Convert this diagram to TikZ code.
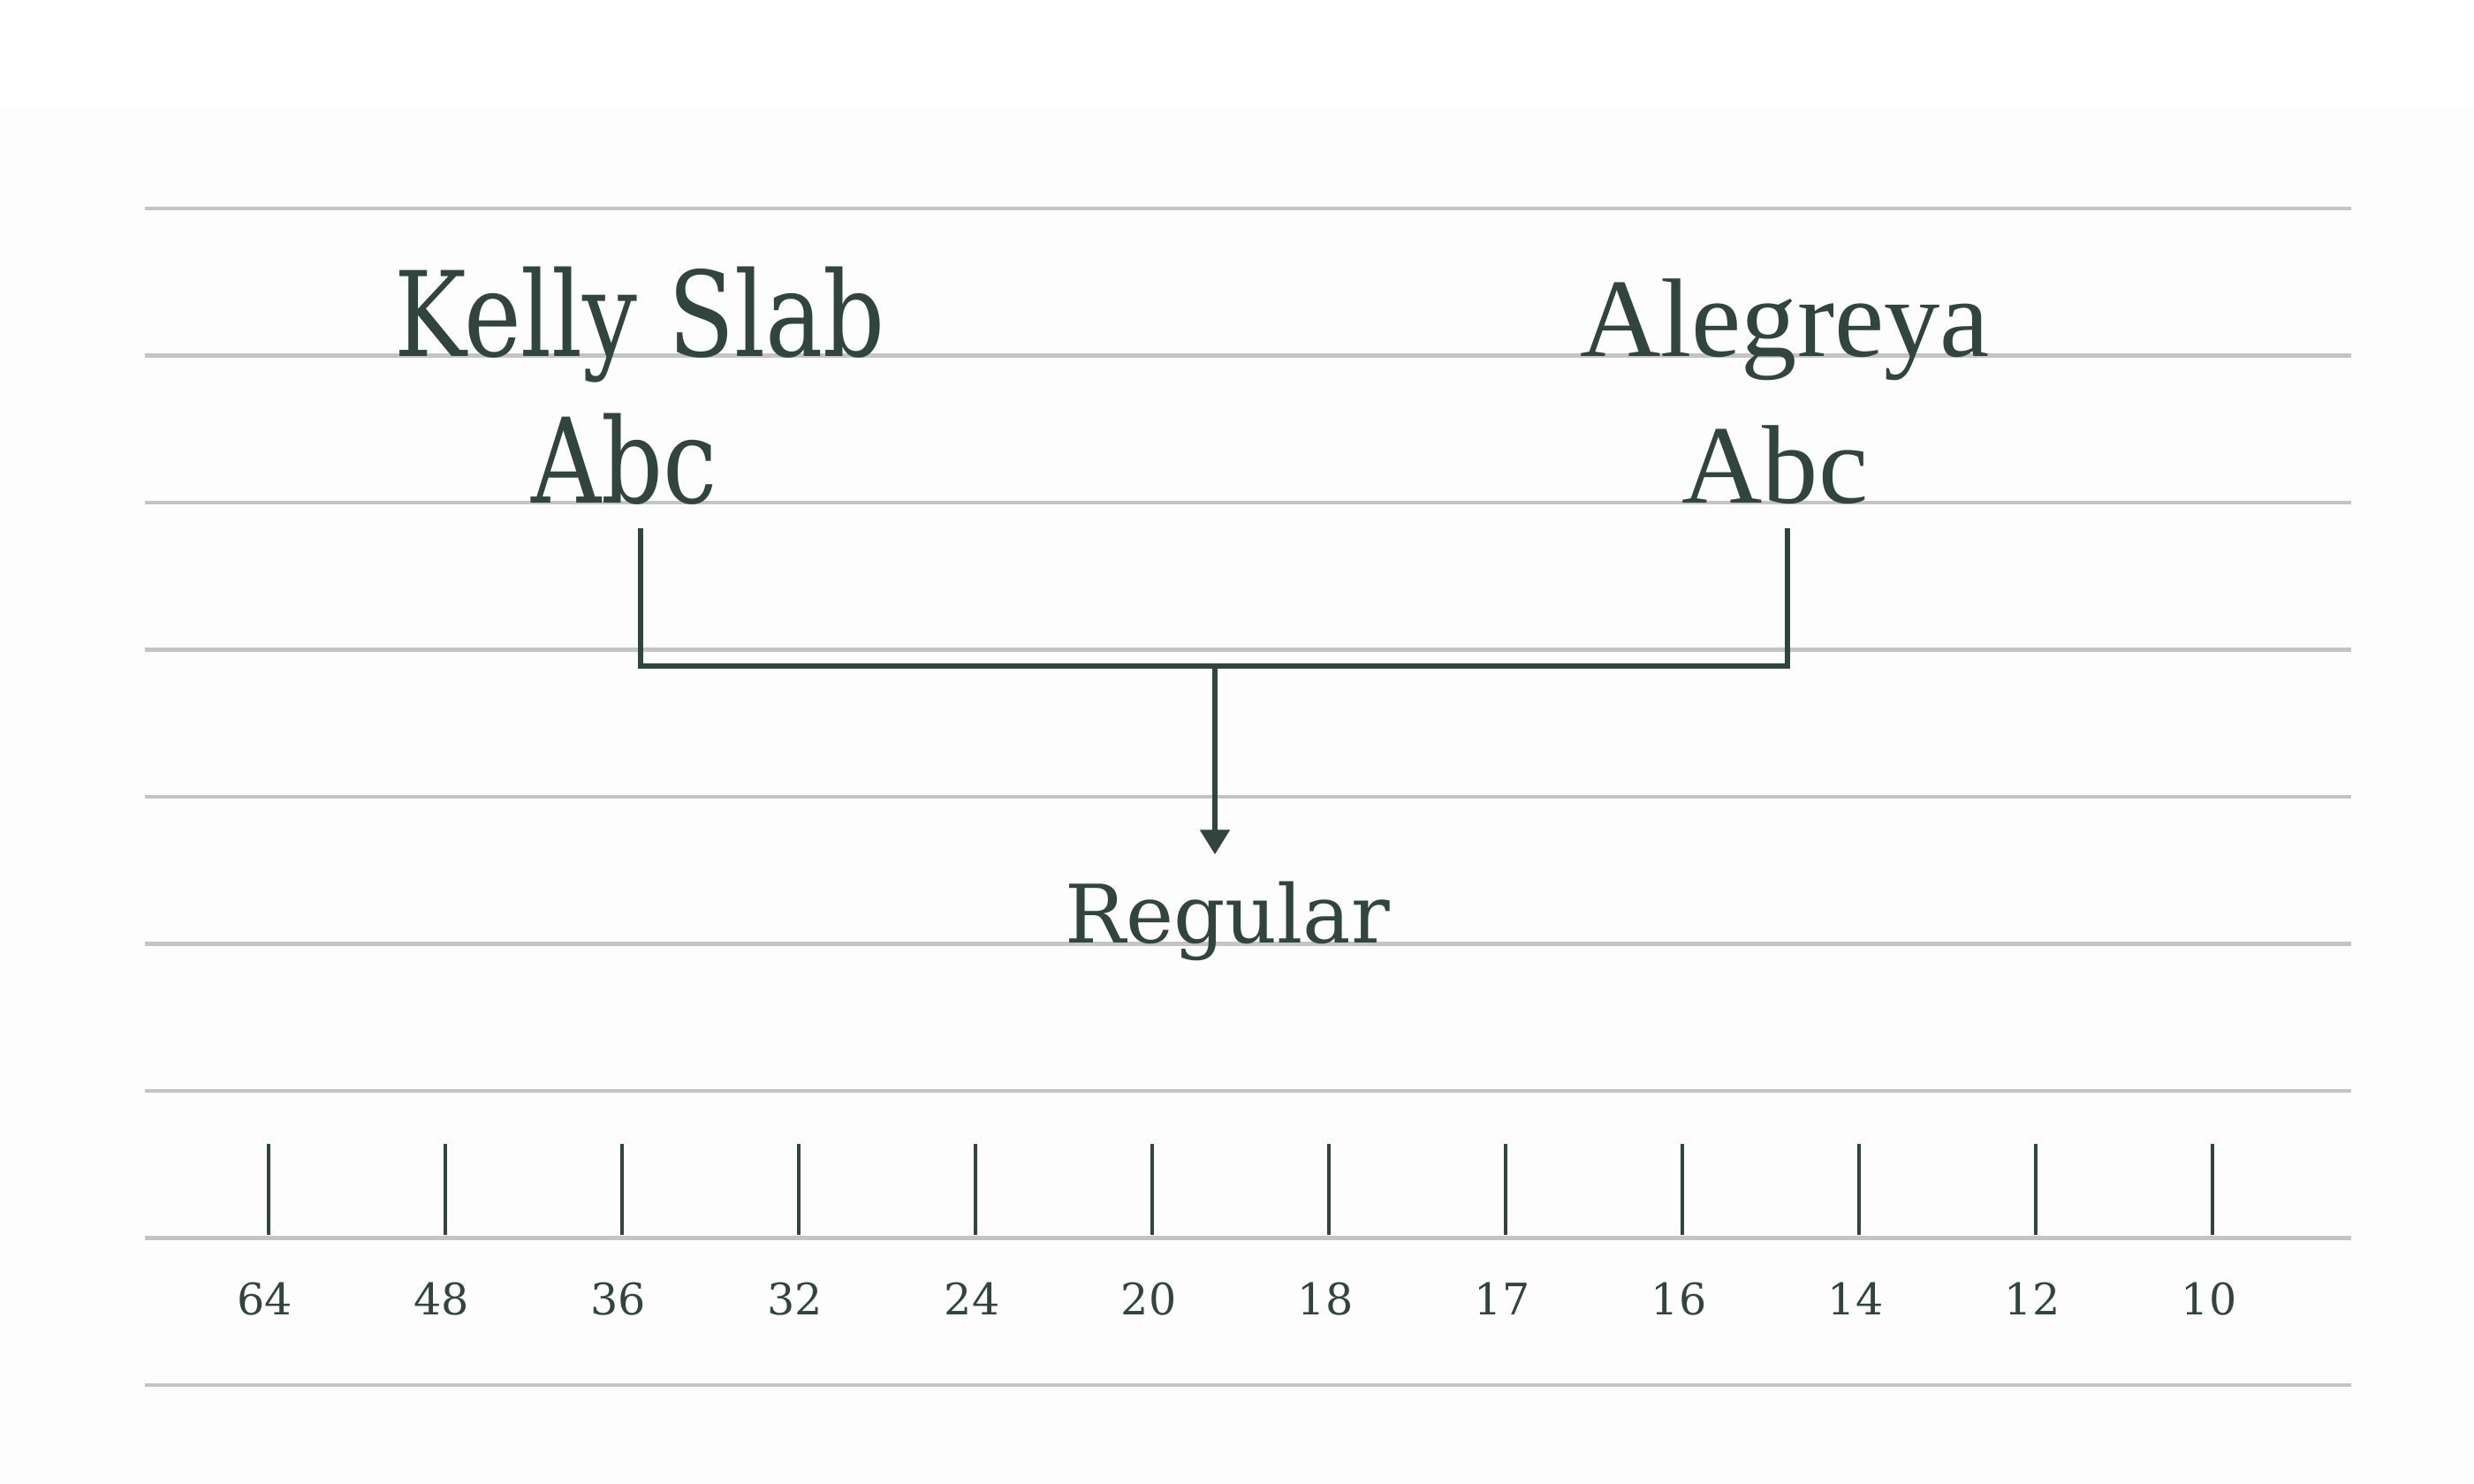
\documentclass[tikz,border=0pt]{standalone}
\usepackage{fontspec}
\usepackage{tikz}
\usetikzlibrary{arrows.meta}
\usetikzlibrary{calc}

\newfontfamily\slabfont[FakeStretch=0.82]{DejaVu Serif}
\newfontfamily\bookfont{Liberation Serif}
\newfontfamily\plainfont{DejaVu Serif}
\definecolor{ink}{HTML}{2F453E}
\definecolor{rule}{HTML}{C4C4C4}
\definecolor{paper}{HTML}{FDFDFD}

\begin{document}
\begin{tikzpicture}[>/.tip={Triangle[width=0.33cm,length=0.28cm]},
	guide/.style={rule,line width=0.045cm},
	bracket/.style={ink,line width=0.055cm},
	tickmark/.style={ink,line width=0.045cm},
	sizelabel/.style={ink,anchor=base,inner sep=0pt,font=\plainfont\fontsize{14}{14}\selectfont}]
	\useasboundingbox (0,0) rectangle (28,16.8);
	\fill[paper] (0,0) rectangle (28,15.6);

	% ruled lines
	\foreach \i in {0,...,8}
		\draw[guide] (1.64,{14.44-1.665*\i}) -- (26.61,{14.44-1.665*\i});

	% the two fonts
	\draw (7.24,12.76) node (kelly) [ink,anchor=base,inner sep=0pt,font=\slabfont\fontsize{38}{38}\selectfont] {Kelly Slab};
	\draw (7.07,11.10) node (kabc) [ink,anchor=base,inner sep=0pt,font=\slabfont\fontsize{38}{38}\selectfont] {Abc};
	\draw (20.20,12.76) node (alegreya) [ink,anchor=base,inner sep=0pt,font=\bookfont\fontsize{36}{36}\selectfont] {Alegreya};
	\draw (20.09,11.10) node (aabc) [ink,anchor=base,inner sep=0pt,font=\bookfont\fontsize{36}{36}\selectfont] {Abc};
	\draw (13.89,6.12) node (regular) [ink,anchor=base,inner sep=0pt,text height=1cm,text depth=0pt,font=\plainfont\fontsize{26}{26}\selectfont] {Regular};

	\coordinate (kfoot) at (7.25,10.82);
	\coordinate (afoot) at (20.23,10.82);
	\coordinate (hub) at (13.75,9.26);
	\draw[bracket] (kfoot) |- (hub) -| (afoot);
	\draw[bracket,->] (hub) -- (hub |- regular.north);

	% size scale
	\foreach \s [count=\i from 0] in {64,48,36,32,24,20,18,17,16,14,12,10} {
		\draw[tickmark] ({3.04+2*\i},3.85) -- ({3.04+2*\i},2.82);
		\draw ({3.0+2*\i},1.91) node (size\s) [sizelabel] {\s};
	}
\end{tikzpicture}
\end{document}
